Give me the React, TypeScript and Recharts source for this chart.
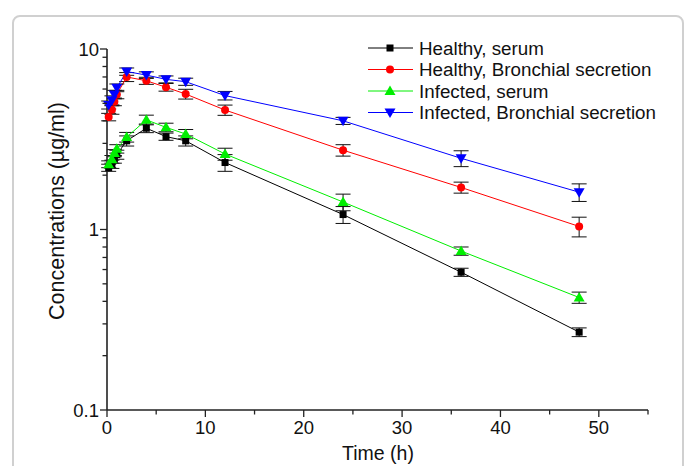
import { LineChart, Line, XAxis, YAxis, ErrorBar } from "recharts"

const times = [0.17, 0.5, 0.75, 1, 2, 4, 6, 8, 12, 24, 36, 48]

const healthySerum = [2.2, 2.3, 2.45, 2.6, 3.1, 3.64, 3.27, 3.1, 2.35, 1.21, 0.58, 0.27]
const healthySerumSd = [0.1, 0.12, 0.12, 0.15, 0.2, 0.2, 0.15, 0.2, 0.25, 0.13, 0.03, 0.015]
const healthyBs = [4.2, 4.6, 5.1, 5.6, 7.0, 6.67, 6.14, 5.63, 4.59, 2.75, 1.71, 1.04]
const healthyBsSd = [0.2, 0.25, 0.25, 0.3, 0.4, 0.3, 0.3, 0.35, 0.3, 0.2, 0.12, 0.13]
const infectedSerum = [2.3, 2.45, 2.65, 2.8, 3.25, 4.05, 3.68, 3.38, 2.62, 1.42, 0.76, 0.42]
const infectedSerumSd = [0.1, 0.12, 0.12, 0.15, 0.2, 0.25, 0.2, 0.2, 0.2, 0.15, 0.04, 0.03]
const infectedBs = [4.9, 5.2, 5.6, 6.1, 7.5, 7.17, 6.79, 6.59, 5.52, 4.0, 2.48, 1.61]
const infectedBsSd = [0.25, 0.3, 0.3, 0.3, 0.35, 0.3, 0.3, 0.3, 0.3, 0.18, 0.25, 0.18]

const xTicks = [0, 5, 10, 15, 20, 25, 30, 35, 40, 45, 50, 55]
const xLabels = [0, 10, 20, 30, 40, 50]
const yTicks = [0.1, 0.2, 0.3, 0.4, 0.5, 0.6, 0.7, 0.8, 0.9, 1, 2, 3, 4, 5, 6, 7, 8, 9, 10]
const yLabels = [0.1, 1, 10]

const series = [
  { key: "hs", name: "Healthy, serum", color: "#000000", shape: "square" },
  { key: "hb", name: "Healthy, Bronchial secretion", color: "#ff0000", shape: "circle" },
  { key: "is", name: "Infected, serum", color: "#00ee00", shape: "up" },
  { key: "ib", name: "Infected, Bronchial secretion", color: "#0000ff", shape: "down" },
]

const data = times.map((t, i) => ({
  t,
  hs: healthySerum[i],
  hsE: healthySerumSd[i],
  hb: healthyBs[i],
  hbE: healthyBsSd[i],
  is: infectedSerum[i],
  isE: infectedSerumSd[i],
  ib: infectedBs[i],
  ibE: infectedBsSd[i],
}))

const FONT = "'Liberation Sans', Arial, sans-serif"
const AXIS = "#222"

function marker(shape: string, color: string, cx: number, cy: number, key?: any) {
  if (shape === "square") return <rect key={key} x={cx - 3.5} y={cy - 3.5} width={7} height={7} fill={color} />
  if (shape === "circle") return <circle key={key} cx={cx} cy={cy} r={4} fill={color} />
  if (shape === "up")
    return <path key={key} d={`M${cx},${cy - 5.5} L${cx + 5.5},${cy + 4} L${cx - 5.5},${cy + 4} Z`} fill={color} />
  return <path key={key} d={`M${cx},${cy + 5.5} L${cx + 5.5},${cy - 4} L${cx - 5.5},${cy - 4} Z`} fill={color} />
}

const YTick = (p: any) => {
  const v = p.payload.value
  const major = yLabels.includes(v)
  return (
    <g>
      <line x1={p.x} x2={p.x - (major ? 7 : 4.5)} y1={p.y} y2={p.y} stroke={AXIS} strokeWidth={1.3} />
      {major && (
        <text x={p.x - 8} y={p.y + 6.5} textAnchor="end" fontSize={18.5} fontFamily={FONT} fill="#111">
          {String(v)}
        </text>
      )}
    </g>
  )
}

const XTick = (p: any) => {
  const v = p.payload.value
  const major = xLabels.includes(v)
  return (
    <g>
      <line x1={p.x} x2={p.x} y1={p.y} y2={p.y + (major ? 7 : 4.5)} stroke={AXIS} strokeWidth={1.3} />
      {major && (
        <text x={p.x} y={p.y + 24} textAnchor="middle" fontSize={18.5} fontFamily={FONT} fill="#111">
          {String(v)}
        </text>
      )}
    </g>
  )
}

export default function App() {
  return (
    <div style={{ position: "absolute", left: 0, top: 0, width: 685, height: 466, overflow: "hidden", background: "#fff" }}>
      <div
        style={{
          position: "absolute",
          left: 12,
          top: 15,
          width: 668,
          height: 480,
          border: "2px solid #d0d0d0",
          borderRadius: 8,
        }}
      />
      <div style={{ position: "absolute", left: 0, top: 0 }}>
        <LineChart width={685} height={466} data={data} margin={{ top: 49, right: 37, bottom: 0, left: 0 }}>
          <XAxis
            dataKey="t"
            type="number"
            domain={[0, 55]}
            ticks={xTicks}
            interval={0}
            tick={XTick}
            tickLine={false}
            tickSize={0}
            tickMargin={0}
            height={56}
            axisLine={{ stroke: AXIS, strokeWidth: 1.6 }}
          />
          <YAxis
            type="number"
            scale="log"
            domain={[0.1, 10]}
            allowDataOverflow
            ticks={yTicks}
            interval={0}
            tick={YTick}
            tickLine={false}
            tickSize={0}
            tickMargin={0}
            width={107}
            axisLine={{ stroke: AXIS, strokeWidth: 1.6 }}
          />
          {series.map((s) => (
            <Line
              key={s.key}
              dataKey={s.key}
              name={s.name}
              stroke={s.color}
              strokeWidth={1}
              isAnimationActive={false}
              dot={(p: any) => marker(s.shape, s.color, p.cx, p.cy, p.index)}
              activeDot={false}
            >
              <ErrorBar dataKey={s.key + "E"} direction="y" width={7.5} stroke="#111" strokeWidth={1} isAnimationActive={false} />
            </Line>
          ))}
        </LineChart>
      </div>
      <svg width={685} height={466} style={{ position: "absolute", left: 0, top: 0, pointerEvents: "none" }}>
        {series.map((s, i) => {
          const y = 48 + i * 21.5
          return (
            <g key={s.key}>
              <line x1={368} x2={413} y1={y} y2={y} stroke={s.color} strokeWidth={1} />
              {marker(s.shape, s.color, 390, y)}
              <text x={419} y={y + 6.5} fontSize={18.8} fontFamily={FONT} fill="#111">
                {s.name}
              </text>
            </g>
          )
        })}
        <text x={378} y={460} textAnchor="middle" fontSize={19.5} fontFamily={FONT} fill="#111">
          Time (h)
        </text>
        <text
          x={0}
          y={0}
          transform="translate(64,211) rotate(-90)"
          textAnchor="middle"
          fontSize={21.5}
          fontFamily={FONT}
          fill="#111"
        >
          Concentrations (µg/ml)
        </text>
      </svg>
    </div>
  )
}
